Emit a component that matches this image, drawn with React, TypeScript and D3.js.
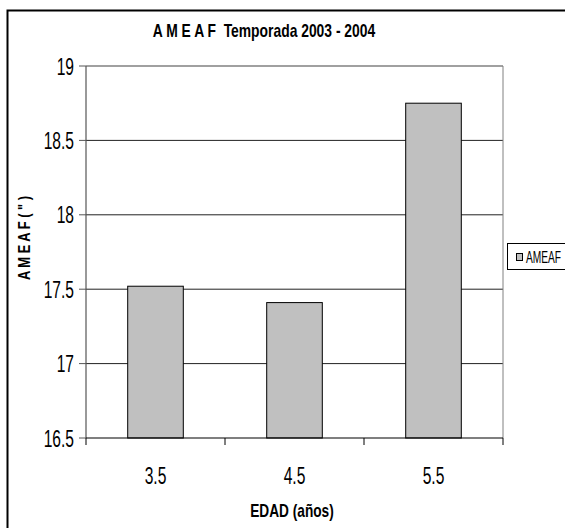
import React from "react";
import * as d3 from "d3";

const categories = ["3.5", "4.5", "5.5"];
const values = [17.52, 17.41, 18.75];
const yTicks = [16.5, 17, 17.5, 18, 18.5, 19];
const seriesName = "AMEAF";
const chartTitle = "A M E A F  Temporada 2003 - 2004";
const xTitle = "EDAD (años)";
const yTitle = "A M E A F ( \" )";

const W = 565;
const H = 528;
const plot = { left: 86, right: 503, top: 66, bottom: 438 };
const font = "'Liberation Sans', Arial, sans-serif";

// Condensed text: horizontal squeeze around the anchor point
function NarrowText(props: {
  x: number;
  y: number;
  sx: number;
  size: number;
  anchor?: "start" | "middle" | "end";
  bold?: boolean;
  rotate?: number;
  children: React.ReactNode;
}) {
  const { x, y, sx, size, anchor = "start", bold, rotate = 0, children } = props;
  return (
    <text
      transform={`translate(${x},${y}) rotate(${rotate}) scale(${sx},1)`}
      textAnchor={anchor}
      fontSize={size}
      fontWeight={bold ? "bold" : "normal"}
      style={{ whiteSpace: "pre" }}
    >
      {children}
    </text>
  );
}

export default function App() {
  const x = d3
    .scaleBand<string>()
    .domain(categories)
    .range([plot.left, plot.right])
    .paddingInner(0.6)
    .paddingOuter(0.3);
  const y = d3.scaleLinear().domain([16.5, 19]).range([plot.bottom, plot.top]);
  const step = x.step();
  const boundaries = d3.range(categories.length + 1).map((i) => plot.left + i * step);

  return (
    <svg
      width={W}
      height={H}
      style={{ position: "absolute", left: 0, top: 0, display: "block", background: "#fff" }}
      fontFamily={font}
    >
      <rect x={0} y={0} width={W} height={H} fill="#fff" />
      {/* chart area border */}
      <rect x={7.5} y={10.5} width={W + 10} height={H + 10} fill="none" stroke="#000" strokeWidth={2} />

      <NarrowText x={264} y={37} sx={0.73} size={19} anchor="middle" bold>
        {chartTitle}
      </NarrowText>

      {/* gridlines */}
      {yTicks.slice(1, -1).map((t) => (
        <line key={t} x1={plot.left} x2={plot.right} y1={y(t)} y2={y(t)} stroke="#222" strokeWidth={1} />
      ))}
      {/* plot frame: top and right */}
      <line x1={plot.left} x2={plot.right} y1={plot.top} y2={plot.top} stroke="#808080" strokeWidth={1.5} />
      <line x1={plot.right} x2={plot.right} y1={plot.top} y2={plot.bottom} stroke="#808080" strokeWidth={1} />

      {/* bars */}
      {categories.map((c, i) => (
        <rect
          key={c}
          x={x(c)}
          y={y(values[i])}
          width={x.bandwidth()}
          height={plot.bottom - y(values[i])}
          fill="#c0c0c0"
          stroke="#000"
          strokeWidth={1}
        />
      ))}

      {/* y axis */}
      <line x1={plot.left} x2={plot.left} y1={plot.top} y2={plot.bottom} stroke="#555" strokeWidth={1.2} />
      {yTicks.map((t) => (
        <g key={t}>
          <line x1={plot.left - 7} x2={plot.left} y1={y(t)} y2={y(t)} stroke="#555" strokeWidth={1} />
          <NarrowText x={74} y={y(t) + 8.5} sx={0.65} size={24} anchor="end">
            {t}
          </NarrowText>
        </g>
      ))}

      {/* x axis */}
      <line x1={plot.left} x2={plot.right} y1={plot.bottom} y2={plot.bottom} stroke="#000" strokeWidth={1.2} />
      {boundaries.map((b, i) => (
        <line key={i} x1={b} x2={b} y1={plot.bottom} y2={plot.bottom + 7} stroke="#000" strokeWidth={1} />
      ))}
      {categories.map((c) => (
        <NarrowText key={c} x={(x(c) ?? 0) + x.bandwidth() / 2} y={484} sx={0.65} size={24} anchor="middle">
          {c}
        </NarrowText>
      ))}

      <NarrowText x={292} y={517} sx={0.76} size={18} anchor="middle" bold>
        {xTitle}
      </NarrowText>
      <NarrowText x={30} y={238} sx={0.76} size={17} anchor="middle" bold rotate={-90}>
        {yTitle}
      </NarrowText>

      {/* legend */}
      <rect x={507.5} y={243.5} width={80} height={26} fill="#fff" stroke="#000" strokeWidth={1} />
      <rect x={516.5} y={253.5} width={6} height={7} fill="#c0c0c0" stroke="#000" strokeWidth={1} />
      <NarrowText x={526} y={263} sx={0.6} size={17}>
        {seriesName}
      </NarrowText>
    </svg>
  );
}
